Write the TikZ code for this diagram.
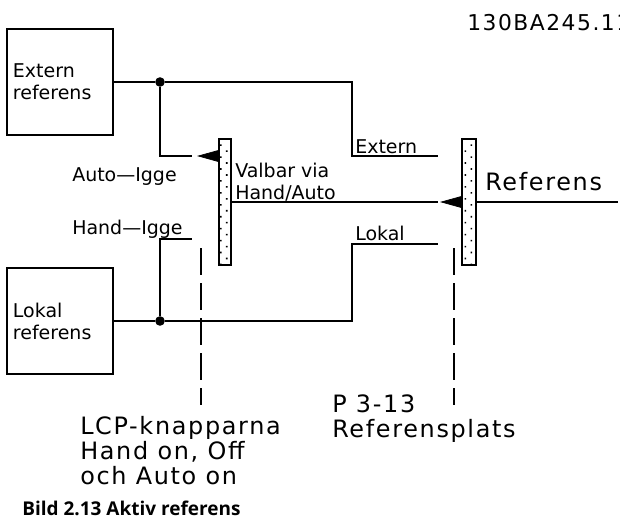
\documentclass[tikz,border=0pt]{standalone}
\usepackage{fontspec}
\setmainfont{DejaVu Sans}
\newfontfamily\widefont[LetterSpace=7]{DejaVu Sans}
\newfontfamily\captionfont{Open Sans}
\newcommand{\cadsize}{\fontsize{13.5}{15.6}\selectfont}
\newcommand{\widesize}{\widefont\fontsize{17}{17.8}\selectfont}
\usetikzlibrary{arrows.meta, patterns.meta}

\begin{document}
\begin{tikzpicture}[x=0.025cm, y=-0.025cm,
    refbox/.style={rectangle, draw, line width=1.8pt, minimum width=2.65cm,
        minimum height=2.65cm, text width=2.35cm, inner xsep=0.15cm,
        align=left, font=\cadsize},
    switchbar/.style={rectangle, draw, line width=1.8pt, inner sep=0pt,
        minimum height=3.15cm,
        pattern={Dots[distance=6pt, angle=45, radius=0.8pt]}},
    junc/.style={circle, fill, inner sep=0pt, minimum size=0.24cm},
    wire/.style={line width=1.8pt},
    pointer/.style={-{Triangle[length=0.55cm, width=0.3cm]}, line width=0.5pt},
    selector/.style={line width=1.8pt, dash pattern=on 0.675cm off 0.2cm},
    cadlabel/.style={inner sep=0pt, font=\cadsize},
    widelabel/.style={inner sep=0pt, align=left, font=\widesize}]

    \useasboundingbox (0,0) rectangle (620,521);

    % REFERENCE BOXES
    \node[refbox] (extbox) at (60,82) {Extern\\referens};
    \node[refbox] (lokbox) at (60,321) {Lokal\\referens};

    % JUNCTIONS
    \node[junc] (extjunc) at (160,82) {};
    \node[junc] (lokjunc) at (160,321) {};

    % SWITCHES
    \node[switchbar, minimum width=0.3cm] (handauto) at (225,202) {};
    \node[switchbar, minimum width=0.35cm] (refsite) at (469,202) {};

    % CONTACT ENDS
    \coordinate (autoin) at (192,156);
    \coordinate (handin) at (192,239);
    \coordinate (extin) at (438,156);
    \coordinate (lokin) at (438,244);
    \coordinate (selout) at (438,202);
    \coordinate (refout) at (618,202);
    \coordinate (autotip) at (197,156);
    \coordinate (seltip) at (440,202);

    % WIRES
    \draw[wire] (extbox.east) -- (extjunc) -- ++(192,0) |- (extin);
    \draw[wire] (extjunc) |- (autoin);
    \draw[wire] (lokbox.east) -- (lokjunc) -- ++(192,0) |- (lokin);
    \draw[wire] (lokjunc) |- (handin);
    \draw[wire] (handauto.east) -- (selout);
    \draw[wire] (refsite.east) -- (refout);

    % SWITCH POINTERS
    \draw[pointer] (handauto.west |- autoin) -- (autotip);
    \draw[pointer] (refsite.west) -- (seltip);

    % SELECTOR LINKS
    \coordinate (lcptop) at (201,248);
    \coordinate (lcpbot) at (201,405);
    \coordinate (partop) at (454,248);
    \coordinate (parbot) at (454,405);
    \draw[selector] (lcptop) -- (lcpbot);
    \draw[selector] (partop) -- (parbot);

    % CONTACT LABELS
    \node[cadlabel, anchor=base west] (autolbl) at (72,181) {Auto---Igge};
    \node[cadlabel, anchor=base west] (handlbl) at (72,234) {Hand---Igge};
    \node[cadlabel, anchor=base west] (extlbl) at (355,153) {Extern};
    \node[cadlabel, anchor=base west] (loklbl) at (355,240) {Lokal};
    \node[cadlabel, anchor=base west] (vallbl) at (235,177) {Valbar via};
    \node[cadlabel, anchor=base west] (hallbl) at (235,199) {Hand/Auto};

    % TEXTS
    \node[widelabel, anchor=base west] (reflbl) at (485,190) {Referens};
    \node[widelabel, anchor=base west, font=\widefont\fontsize{15.5}{17}\selectfont]
        (code) at (467,30) {130BA245.11};
    \node[widelabel, anchor=north west] (lcplbl) at (80,416)
        {LCP-knapparna\\Hand on, Off\\och Auto on};
    \node[widelabel, anchor=north west] (parlbl) at (332,394)
        {P 3-13\\Referensplats};
    \node[inner sep=0pt, anchor=base west,
        font=\captionfont\bfseries\fontsize{13.5}{15}\selectfont]
        (caption) at (22,515) {Bild 2.13 Aktiv referens};

\end{tikzpicture}
\end{document}
